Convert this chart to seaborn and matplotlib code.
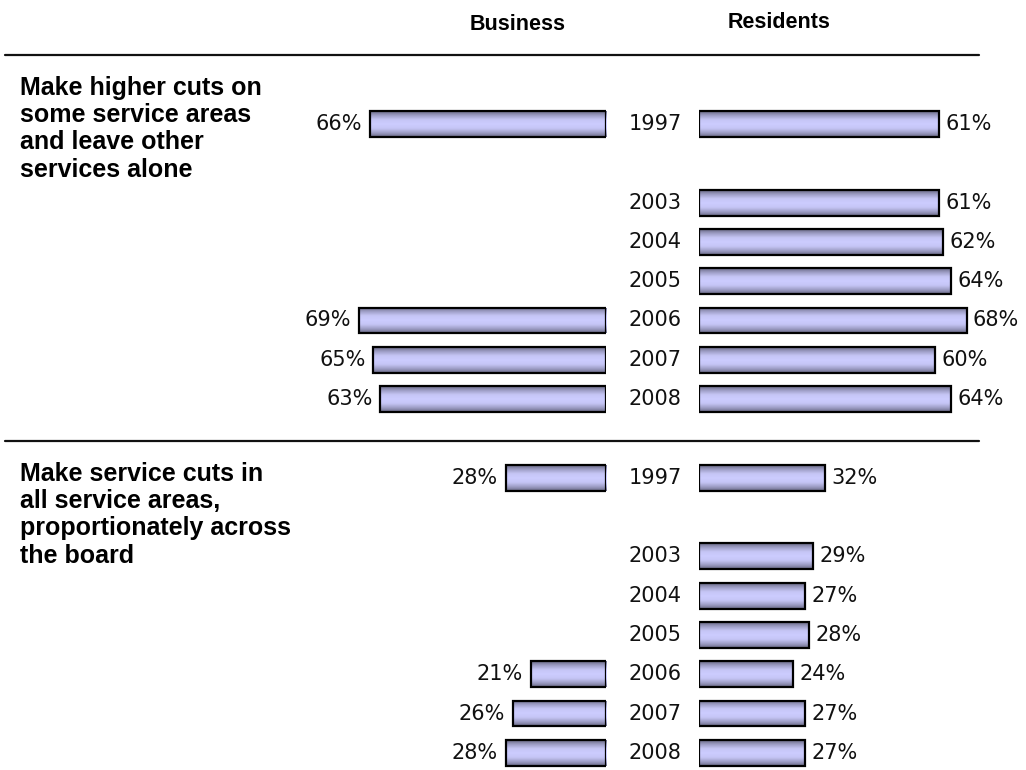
import numpy as np
import pandas as pd
import matplotlib
matplotlib.use("Agg")
import matplotlib.pyplot as plt
import seaborn as sns
from matplotlib.transforms import blended_transform_factory
from matplotlib.colors import LinearSegmentedColormap

# ---------------- data ----------------
years = ["1997", "2003", "2004", "2005", "2006", "2007", "2008"]
group_labels = [
    "Make higher cuts on\nsome service areas\nand leave other\nservices alone",
    "Make service cuts in\nall service areas,\nproportionately across\nthe board",
]
business_higher = [66, None, None, None, 69, 65, 63]
residents_higher = [61, 61, 62, 64, 68, 60, 64]
business_across = [28, None, None, None, 21, 26, 28]
residents_across = [32, 29, 27, 28, 24, 27, 27]
column_titles = ["Business", "Residents"]

# ---------------- layout ----------------
W, H = 1026, 770
sns.set_style("white")
plt.rcParams["font.family"] = ["DejaVu Sans"]
plt.rcParams["text.color"] = "black"
fig = plt.figure(figsize=(W / 100, H / 100), dpi=100)

year_slot = [0, 2, 3, 4, 5, 6, 7]   # blank slot after 1997
group_offset = [0, 9]
slot_px = 39.3
first_px = 124
ylim = ((H - first_px) / slot_px, -first_px / slot_px)

rows = []
for g, (bus, res) in enumerate([(business_higher, residents_higher),
                                (business_across, residents_across)]):
    for i, y in enumerate(years):
        slot = group_offset[g] + year_slot[i]
        if bus[i] is not None:
            rows.append(dict(side="Business", year=y, value=bus[i], slot=slot))
        rows.append(dict(side="Residents", year=y, value=res[i], slot=slot))
df = pd.DataFrame(rows)

bus_left, bus_right = 250, 606
res_left, res_right = 699, 1026
bus_scale, res_scale = 3.58, 3.935

ax_b = fig.add_axes([bus_left / W, 0, (bus_right - bus_left) / W, 1])
ax_r = fig.add_axes([res_left / W, 0, (res_right - res_left) / W, 1])

cmap = LinearSegmentedColormap.from_list(
    "g", ["#6a6a86", "#a0a0c8", "#c6c6f6", "#ccccff", "#c6c6f6", "#a0a0c8", "#6a6a86"])
grad = np.linspace(0, 1, 64).reshape(-1, 1)

pct_fs = 15
year_fs = 15
for ax, side, xl in [(ax_b, "Business", ((bus_right - bus_left) / bus_scale, 0)),
                     (ax_r, "Residents", (0, (res_right - res_left) / res_scale))]:
    sub = df[df.side == side]
    sns.barplot(data=sub, x="value", y="slot", orient="h", native_scale=True,
                ax=ax, width=0.66, color="#ccccff", edgecolor="black",
                linewidth=1.6, errorbar=None)
    for p in list(ax.patches):
        x0, y0 = p.get_x(), p.get_y()
        w, h = p.get_width(), p.get_height()
        im = ax.imshow(grad, cmap=cmap, aspect="auto",
                       extent=(x0, x0 + w, y0 + h, y0), zorder=p.get_zorder() - 0.1,
                       interpolation="bicubic")
        im.set_clip_path(p)
        p.set_facecolor("none")
    ax.set_xlim(*xl)
    ax.set_ylim(*ylim)
    ax.axis("off")
    for _, r in sub.iterrows():
        if side == "Business":
            ax.annotate(f"{r.value}%", (r.value, r.slot), xytext=(-5.5, 0),
                        textcoords="offset points", ha="right", va="center",
                        fontsize=pct_fs, color="#111111")
        else:
            ax.annotate(f"{r.value}%", (r.value, r.slot), xytext=(4.5, 0),
                        textcoords="offset points", ha="left", va="center",
                        fontsize=pct_fs, color="#111111")

# year labels
tr = blended_transform_factory(fig.transFigure, ax_r.transData)
for g in range(2):
    for i, y in enumerate(years):
        ax_r.text(655 / W, group_offset[g] + year_slot[i], y, transform=tr,
                  ha="center", va="center", fontsize=year_fs, color="#111111")

# column titles
fig.text(518 / W, 1 - 24 / H, column_titles[0], ha="center", va="center",
         fontsize=15.5, fontweight="bold", family="Liberation Sans", color="black")
fig.text(779 / W, 1 - 22 / H, column_titles[1], ha="center", va="center",
         fontsize=15.5, fontweight="bold", family="Liberation Sans", color="black")

# group labels
for lab, ytop in zip(group_labels, [76, 462]):
    fig.text(20 / W, 1 - ytop / H, lab, ha="left", va="top", fontsize=18,
             fontweight="bold", family="Liberation Sans", linespacing=1.17,
             color="black")

# separators
for ypx in [55, 441]:
    fig.add_artist(plt.Line2D([5 / W, 979 / W], [1 - ypx / H, 1 - ypx / H],
                              color="#111111", linewidth=1.6))

fig.savefig("out.png", dpi=100)
